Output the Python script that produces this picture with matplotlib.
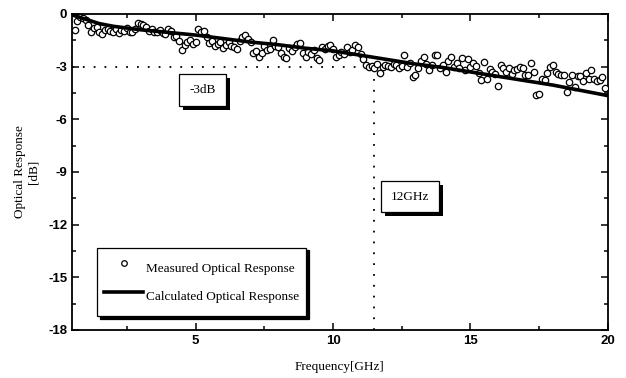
import numpy as np
import matplotlib.pyplot as plt
from matplotlib.patches import Rectangle
from matplotlib.ticker import MultipleLocator

# measured response, one sweep point every 0.1 GHz starting at 0.6 GHz
f_start = 0.6
f_step = 0.1
measured = [
    -0.9, -0.4, -0.15, -0.25,
    -0.35, -0.6, -1.0, -0.8, -0.75, -1.05, -1.15, -0.9, -0.85, -0.95,
    -1.0, -0.85, -1.1, -0.9, -0.95, -0.8, -1.05, -1.0, -0.85, -0.5,
    -0.55, -0.6, -0.75, -0.95, -0.85, -1.0, -1.05, -0.9, -1.1, -1.15,
    -0.85, -0.95, -1.3, -1.25, -1.55, -2.05, -1.75, -1.6, -1.5, -1.7,
    -1.6, -0.85, -1.05, -0.95, -1.3, -1.65, -1.55, -1.8, -1.7, -1.6,
    -1.95, -1.75, -1.6, -1.85, -1.9, -2.0, -1.55, -1.3, -1.2, -1.45,
    -1.6, -2.2, -2.1, -2.45, -2.2, -1.85, -2.05, -2.0, -1.5, -1.85,
    -1.9, -2.25, -2.45, -2.5, -1.95, -2.1, -1.9, -1.7, -1.65, -2.2,
    -2.45, -2.15, -2.3, -2.05, -2.5, -2.6, -1.9, -2.0, -1.8, -1.75,
    -2.0, -2.45, -2.35, -2.15, -2.3, -1.9, -2.15, -2.05, -1.75, -1.9,
    -2.3, -2.55, -2.9, -3.0, -2.95, -3.1, -2.85, -3.35, -3.0, -2.9,
    -2.95, -3.0, -2.85, -2.9, -3.05, -2.95, -2.35, -3.0, -2.8, -3.6,
    -3.5, -3.05, -2.7, -2.45, -2.85, -3.2, -2.9, -2.35, -2.35, -3.05,
    -2.9, -3.3, -2.7, -2.45, -3.0, -2.8, -3.1, -2.5, -3.2, -2.55,
    -3.0, -2.8, -2.95, -3.35, -3.75, -2.75, -3.7, -3.15, -3.3, -3.4,
    -4.1, -2.9, -3.05, -3.3, -3.1, -3.4, -3.2, -3.15, -3.0, -3.1,
    -3.5, -3.45, -2.8, -3.3, -4.6, -4.55, -3.7, -3.75, -3.35, -3.0,
    -2.9, -3.3, -3.4, -3.45, -3.5, -4.45, -3.9, -3.5, -4.15, -3.55,
    -3.55, -3.8, -3.35, -3.7, -3.2, -3.7, -3.8, -3.75, -3.6, -4.2,
]
f_meas = np.round(f_start + f_step * np.arange(len(measured)), 2)

# calculated response
f_calc = [0.5, 1, 1.5, 2, 3, 4, 5, 6, 7, 8, 9, 10, 11, 12, 13, 14, 15, 16, 17, 18, 19, 20]
calc = [-0.05, -0.3, -0.55, -0.7, -0.9, -1.05, -1.2, -1.4, -1.6, -1.75, -1.95,
        -2.1, -2.35, -2.6, -2.85, -3.05, -3.3, -3.55, -3.8, -4.05, -4.35, -4.65]

f_3db = 11.5
level_3db = -3

serif = ['Liberation Serif', 'DejaVu Serif']
narrow = ['Liberation Sans Narrow', 'Liberation Sans', 'DejaVu Sans']

fig = plt.figure(figsize=(6.26, 3.78), dpi=100)
ax = fig.add_axes([0.115, 0.127, 0.856, 0.836])

ax.plot(f_meas, measured, 'o', ms=4.6, mfc='white', mec='black', mew=0.9,
        label='Measured Optical Response', zorder=3)
ax.plot(f_calc, calc, '-', color='black', lw=2.6,
        label='Calculated Optical Response', zorder=4)

ax.plot([0.5, f_3db], [level_3db, level_3db], color='black', lw=1.3,
        ls=(0, (1, 5)), zorder=2)
ax.plot([f_3db, f_3db], [-18, level_3db], color='black', lw=1.3,
        ls=(0, (1, 5)), zorder=2)

ax.set_xlim(0.5, 20)
ax.set_ylim(-18, 0)
ax.xaxis.set_minor_locator(MultipleLocator(2.5))
ax.yaxis.set_minor_locator(MultipleLocator(1.5))
ax.tick_params(which='both', direction='in', top=True, right=True, width=1.1)
ax.tick_params(which='major', length=5)
ax.tick_params(which='minor', length=3)
ax.set_yticks([0, -3, -6, -9, -12, -15, -18])
ax.set_yticklabels(['0', '-3', '-6', '-9', '-12', '-15', '-18'],
                   family=narrow, fontsize=9.5, fontweight='bold')
ax.set_xticks([5, 10, 15, 20])
ax.set_xticklabels(['5', '10', '15', '20'], family=narrow, fontsize=9.5,
                   fontweight='bold')
for sp in ax.spines.values():
    sp.set_linewidth(1.3)

ax.set_xlabel('Frequency[GHz]', family=serif, fontsize=9.5, labelpad=10)
ax.set_ylabel('Optical Response\n[dB]', family=serif, fontsize=9.5,
              linespacing=1.2, labelpad=6)

labels = []
for x, y, s in [(5.25, -4.35, '-3dB'), (12.8, -10.4, '12GHz')]:
    t = ax.text(x, y, s, family=serif, fontsize=9.5, ha='center', va='center',
                zorder=6,
                bbox=dict(boxstyle='square,pad=0.75', fc='white', ec='black', lw=0.9))
    labels.append(t)

leg = ax.legend(loc='lower left', bbox_to_anchor=(0.047, 0.043), borderaxespad=0,
                prop={'family': serif, 'size': 9.5}, frameon=True, fancybox=False,
                shadow={'color': 'black', 'alpha': 1.0}, handlelength=2.9,
                handleheight=2.6, handletextpad=0.25, borderpad=0.55,
                labelspacing=0.25)
leg.get_frame().set_edgecolor('black')
leg.get_frame().set_linewidth(0.9)
leg.legend_handles[0].set_markersize(4)

# solid black drop shadows behind the two label boxes
fig.canvas.draw()
to_axes = ax.transAxes.inverted()
dx, dy = 4 / 536, 4 / 316
for t in labels:
    bb = t.get_bbox_patch().get_window_extent().transformed(to_axes)
    ax.add_patch(Rectangle((bb.x0 + dx, bb.y0 - dy), bb.width, bb.height,
                           transform=ax.transAxes, fc='black', ec='none', zorder=5))

fig.savefig('out.png', dpi=100)
